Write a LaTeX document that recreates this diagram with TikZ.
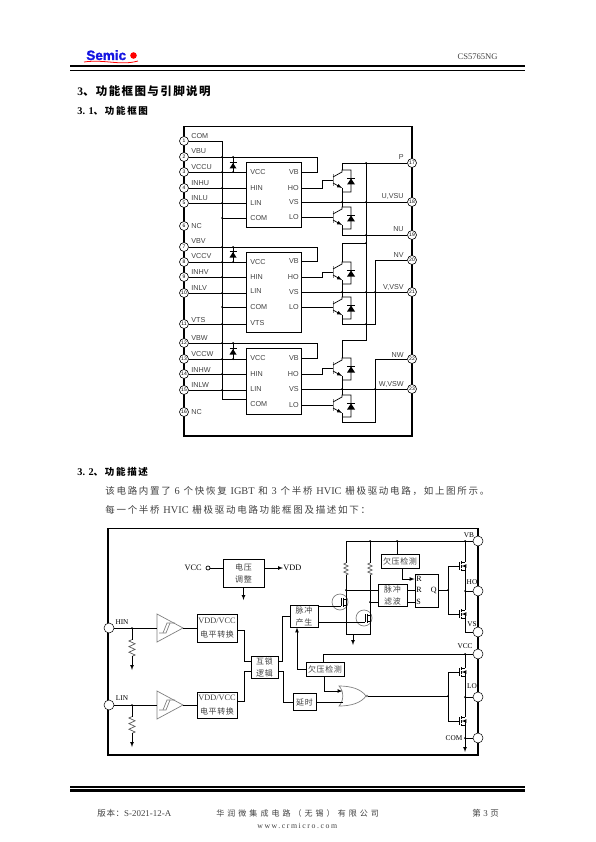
\documentclass[tikz,border=0pt]{standalone}
\usepackage{fontspec}
\setmainfont{Liberation Serif}
\setsansfont{Liberation Sans}
\newfontfamily\zh[LetterSpace=8]{Noto Sans CJK SC}
\newfontfamily\zhsp[LetterSpace=18]{Noto Sans CJK SC}
\newfontfamily\zhtitle[LetterSpace=12]{Noto Sans CJK SC}
\newfontfamily\zhfoot[LetterSpace=38]{Noto Sans CJK SC}
\newfontfamily\logofont[BoldFeatures={FakeBold=1.5}]{Liberation Sans}
\newcommand\bodylat[1]{{\rmfamily\fontsize{10.3}{11}\selectfont #1}}
\newcommand\footlat[1]{{\rmfamily\fontsize{8.9}{10}\selectfont #1}}
\newcommand\gap{\hspace{2.5pt}}
\newcommand\wgap{\hspace{3.8pt}}
\definecolor{logoblue}{RGB}{20,20,225}
\definecolor{inkgray}{gray}{0.25}
\tikzset{
  >=latex,
  pagetext/.style={anchor=west, inner sep=0pt, text=inkgray},
  bodytext/.style={pagetext, font=\fontsize{9.5}{11}\selectfont\zhsp},
  headtext/.style={pagetext, text=black, font=\fontsize{9.5}{11}\selectfont\zhsp\bfseries},
  foottext/.style={pagetext, font=\fontsize{8}{9}\selectfont\zhfoot},
  frame/.style={draw, line width=1.4pt},
  pinnum/.style={shape=circle, draw, fill=white, minimum size=9pt, inner sep=0pt, line width=.6pt, font=\sffamily\fontsize{5}{5}\selectfont},
  pintext/.style={inner sep=0pt, text=inkgray, font=\sffamily\fontsize{7.2}{8}\selectfont},
  icbox/.style={shape=rectangle, draw, line width=.7pt, minimum width=55pt},
  portpin/.style={shape=circle, draw, fill=white, minimum size=10pt, inner sep=0pt, line width=.5pt},
  block/.style={shape=rectangle, draw, line width=.8pt, inner sep=0pt, align=center, text=inkgray, font=\fontsize{8}{12}\selectfont\zh},
  porttext/.style={inner sep=0pt, font=\fontsize{7.3}{8}\selectfont},
  igbt/.pic={
    \draw[gray, line width=.8pt] (0,-6) -- (0,6);
    \draw (0,-3) -- (9,-8) -- (9,-10) -- (18,-10) -- (18,12) -- (9,12);
    \draw[->] (0,3) -- (9,8);
    \draw (9,8) -- (9,12);
    \fill (14,4.5) -- (22,4.5) -- (18,-1.5) -- cycle;
    \draw (14,-2) -- (22,-2);
    \coordinate (-b) at (0,0);
    \coordinate (-c) at (9,-10);
    \coordinate (-e) at (9,12);
  },
  bootdiode/.pic={
    \fill (-3.5,3.5) -- (3.5,3.5) -- (0,-2) -- cycle;
    \draw (-3.5,-2.5) -- (3.5,-2.5);
    \coordinate (-o) at (0,0);
  },
  buffer/.pic={
    \draw[gray] (0,-14) -- (26,0) -- (0,14) -- cycle;
    \draw[gray] (2,5) -- (9,5) -- (13,-5);
    \draw[gray] (6,5) -- (10,-5) -- (18,-5);
    \coordinate (-i) at (0,0);
    \coordinate (-o) at (26,0);
  },
  zigzag/.pic={
    \draw[gray!70!black] (0,-6) -- (-2.2,-5) -- (2.2,-3) -- (-2.2,-1) -- (2.2,1) -- (-2.2,3) -- (2.2,5) -- (0,6);
    \coordinate (-t) at (0,-6);
    \coordinate (-b) at (0,6);
  },
  smallmos/.pic={
    \draw[gray] (0,0) circle (8);
    \draw (1,-4) -- (1,4);
    \draw[line width=1.2pt] (3.5,-4.5) -- (3.5,4.5);
    \draw (3.5,-3) -- (6,-3);
    \draw (3.5,3) -- (6,3);
    \coordinate (-g) at (1,4);
  },
  powermos/.pic={
    \draw (0,-4) -- (0,4);
    \draw[line width=1pt] (2,-5) -- (2,-2.5);
    \draw[line width=1pt] (2,-1.5) -- (2,1.5);
    \draw[line width=1pt] (2,2.5) -- (2,5);
    \draw (2,-4) -- (6,-4);
    \draw (2,4) -- (6,4);
    \draw[->] (6,0) -- (2.5,0);
    \draw (6,0) -- (6,4);
    \coordinate (-g) at (0,0);
    \coordinate (-d) at (6,-4);
    \coordinate (-s) at (6,4);
  },
  orshape/.pic={
    \draw[gray, line width=.7pt] (0,-10) .. controls (5,-5) and (5,5) .. (0,10) .. controls (12,10) and (22,7) .. (27,0) .. controls (22,-7) and (12,-10) .. (0,-10) -- cycle;
    \fill[gray] (28,0) circle (1.3);
    \coordinate (-a) at (3.5,-5);
    \coordinate (-b) at (3.7,6);
    \coordinate (-o) at (29,0);
  }
}
\begin{document}
\begin{tikzpicture}[x=1pt, y=-1pt, line width=.7pt]
  \useasboundingbox (0,0) rectangle (595,842);

  \node[anchor=base west, inner sep=0pt, text=logoblue, font=\logofont\bfseries\fontsize{13.5}{14}\selectfont] (logo) at (86,60){Semic};
  \fill[red] (133.5,55.5) circle (3.3);
  \draw[red, line width=.8pt] (84,62) .. controls (105,59) and (120,66) .. (138,61);
  \node[pagetext, anchor=east, font=\fontsize{8.6}{9}\selectfont] (partno) at (498,57){CS5765NG};
  \draw[line width=2.6pt] (70,66) -- (525,66);
  \draw[line width=1pt] (70,70.5) -- (525,70.5);
  \node[pagetext, text=black, font=\fontsize{11.5}{13}\selectfont\zhtitle\bfseries] (title) at (77,91){\textrm{3}、功能框图与引脚说明};
  \node[headtext] (sub1) at (77,111){\bodylat{\bfseries 3. 1}、功能框图};
  \node[headtext] (sub2) at (77,472){\bodylat{\bfseries 3. 2}、功能描述};
  \node[bodytext] (para1) at (105,491){该电路内置了\wgap\bodylat{6}\wgap 个快恢复\wgap\bodylat{IGBT}\wgap 和\wgap\bodylat{3}\wgap 个半桥\wgap\bodylat{HVIC}\wgap 栅极驱动电路，如上图所示。};
  \node[bodytext] (para2) at (105,510){每一个半桥\wgap\bodylat{HVIC}\wgap 栅极驱动电路功能框图及描述如下：};
  \draw[line width=1.8pt] (70,787) -- (525,787);
  \draw[line width=2.6pt] (70,790.5) -- (525,790.5);
  \node[pagetext, font=\fontsize{8.5}{9}\selectfont\zh] (foot1) at (97,813){版本：\footlat{S-2021-12-A}};
  \node[foottext] (foot2) at (216,813){华润微集成电路（无锡）有限公司};
  \node[pagetext, font=\fontsize{8.5}{9}\selectfont\zh] (foot3) at (472,813){第\gap\footlat{3}\gap 页};
  \node[pagetext, font=\fontsize{7.8}{9}\selectfont\addfontfeatures{LetterSpace=20}] (foot4) at (257,826){www.crmicro.com};

  \draw[frame] (184,126.5) rectangle (412,436);
  \foreach \n/\y in {1/141,2/157,3/172,4/188,5/203,6/226,7/247,8/262,9/277,10/293,11/324,12/343,13/359,14/374,15/390,16/412}
    \node[pinnum] (p\n) at (184,\y){\n};
  \foreach \n/\y in {17/163,18/202,19/235,20/260,21/292,22/359,23/389}
    \node[pinnum] (p\n) at (412,\y){\n};
  \foreach \t/\y in {COM/136,VBU/151,VCCU/167,INHU/183,INLU/198,NC/226,VBV/241,VCCV/256,INHV/272,INLV/288,VTS/320,VBW/338,VCCW/354,INHW/370,INLW/385,NC/412}
    \node[pintext, anchor=west] (l\t\y) at (191,\y){\t};
  \foreach \t/\y in {P/157,{U,VSU}/196,NU/229,NV/255,{V,VSV}/287,NW/355,{W,VSW}/384}
    \node[pintext, anchor=east] at (404,\y){\t};

  \node[icbox, minimum height=65pt] (icu) at (273.5,194.5){};
  \node[icbox, minimum height=80pt] (icv) at (273.5,292){};
  \node[icbox, minimum height=66pt] (icw) at (273.5,381){};
  \foreach \ic/\t/\y in {icu/VCC/172,icu/HIN/188,icu/LIN/203,icu/COM/218,icv/VCC/262,icv/HIN/277,icv/LIN/291,icv/COM/307,icv/VTS/323,icw/VCC/358,icw/HIN/374,icw/LIN/389,icw/COM/404}
    \node[pintext, anchor=west] (\ic\t) at (250,\y){\t};
  \foreach \ic/\t/\y in {icu/VB/172,icu/HO/188,icu/VS/202,icu/LO/217,icv/VB/261,icv/HO/277,icv/VS/292,icv/LO/307,icw/VB/358,icw/HO/374,icw/VS/389,icw/LO/405}
    \node[pintext, anchor=east] (\ic\t) at (299,\y){\t};

  \pic (tuu) at (333,180) {igbt};
  \pic (tul) at (333,217) {igbt};
  \pic (tvu) at (333,272) {igbt};
  \pic (tvl) at (333,307) {igbt};
  \pic (twu) at (333,368) {igbt};
  \pic (twl) at (333,405) {igbt};
  \pic (dbu) at (233,165) {bootdiode};
  \pic (dbv) at (233,254) {bootdiode};
  \pic (dbw) at (233,351) {bootdiode};

  \coordinate (bus) at (222,399);
  \coordinate (vbu) at (317,157);
  \coordinate (vbv) at (317,247);
  \coordinate (vbw) at (317,343);
  \coordinate (pbus) at (366,163);
  \coordinate (pend) at (366,340);
  \coordinate (vtop) at (366,243);
  \coordinate (nvx) at (375,324);
  \coordinate (nwx) at (375,422);

  \draw (p1) -| (bus) -- (bus -| icw.west);
  \draw (icuCOM -| bus) -- (icuCOM -| icu.west);
  \draw (icvCOM -| bus) -- (icvCOM -| icv.west);
  \foreach \p/\ic in {3/icu,4/icu,5/icu,8/icv,9/icv,10/icv,11/icv,13/icw,14/icw,15/icw}
    \draw (p\p) -- (p\p -| \ic.west);
  \draw (p2) -- (vbu) |- (icuVB -| icu.east);
  \draw (p7) -- (vbv) |- (icvVB -| icv.east);
  \draw (p12) -- (vbw) |- (icwVB -| icw.east);
  \draw (p2 -| dbu-o) -- (p3 -| dbu-o);
  \draw (p7 -| dbv-o) -- (p8 -| dbv-o);
  \draw (p12 -| dbw-o) -- (p13 -| dbw-o);
  \draw (icuHO -| icu.east) -| ([xshift=-11pt]tuu-b) -- (tuu-b);
  \draw (icvHO -| icv.east) -| ([xshift=-11pt]tvu-b) -- (tvu-b);
  \draw (icwHO -| icw.east) -| ([xshift=-11pt]twu-b) -- (twu-b);
  \draw (tul-b -| icu.east) -- (tul-b);
  \draw (tvl-b -| icv.east) -- (tvl-b);
  \draw (twl-b -| icw.east) -- (twl-b);
  \draw (p18 -| icu.east) -- (p18);
  \draw (p21 -| icv.east) -- (p21);
  \draw (p23 -| icw.east) -- (p23);
  \draw (tuu-c) |- (p17);
  \draw (tuu-e) -- (tul-c);
  \draw (tul-e) |- (p19);
  \draw (tvu-e) -- (tvl-c);
  \draw (twu-e) -- (twl-c);
  \draw (tvl-e) |- (nvx) |- (p20);
  \draw (twl-e) |- (nwx) |- (p22);
  \draw (pbus) -- (pend) -| (twu-c);
  \draw (vtop) -| (tvu-c);
  \foreach \x/\y in {222/157,222/172,222/188,222/203,222/218,222/247,222/262,222/277,222/293,222/307,222/324,222/343,222/359,222/374,222/390,233/157,233/172,233/247,233/262,233/343,233/359,366/163,342/202,366/202,366/235,366/243,342/292,366/292,375/292,366/324,342/389,375/389}
    \fill (\x,\y) circle (1);

  \draw[frame] (108,528.5) rectangle (478,755);
  \node[portpin] (hin) at (109,628){};
  \node[portpin] (lin) at (109,705){};
  \node[portpin] (vb) at (478,541){};
  \node[portpin] (ho) at (478,591){};
  \node[portpin] (vs) at (478,632){};
  \node[portpin] (vcc) at (478,654){};
  \node[portpin] (lo) at (478,697){};
  \node[portpin] (com) at (478,738){};
  \foreach \t/\x/\y in {HIN/122/622,LIN/122/698,VB/469/535,HO/472/582,VS/472/624,VCC/465/646,LO/472/686,COM/454/738}
    \node[porttext] (t\t) at (\x,\y){\t};

  \node[shape=circle, draw, minimum size=4pt, inner sep=0pt] (vccin) at (208,568){};
  \node[porttext, anchor=east, font=\fontsize{8.3}{9}\selectfont] (tvccin) at (202,568){VCC};
  \node[porttext, anchor=west, font=\fontsize{8.3}{9}\selectfont] (tvdd) at (283,568){VDD};
  \node[block, minimum width=41pt, minimum height=28pt] (vreg) at (243.5,573){电压\\调整};
  \coordinate (vregg) at (243.5,600);
  \draw (vccin) -- (vreg.west |- vccin);
  \draw[->] (vreg.east |- tvdd) -- (tvdd);
  \draw[->] (vreg) -- (vregg);

  \pic (bufh) at (157,628) {buffer};
  \pic (bufl) at (157,705) {buffer};
  \node[block, minimum width=40pt, minimum height=28pt] (lvh) at (217,628){\rmfamily\fontsize{8.3}{9}\selectfont VDD/VCC\\[2pt]\zh 电平转换};
  \node[block, minimum width=40pt, minimum height=26pt] (lvl) at (217,705){\rmfamily\fontsize{8.3}{9}\selectfont VDD/VCC\\[2pt]\zh 电平转换};
  \node[block, minimum width=27pt, minimum height=22pt] (lock) at (264.5,667){互锁\\逻辑};
  \node[block, minimum width=28pt, minimum height=22pt] (pulse) at (304,616){脉冲\\产生};
  \node[block, minimum width=23pt, minimum height=17pt] (delay) at (304.5,702){延时};
  \node[block, minimum width=38pt, minimum height=14pt] (uvl) at (325,669.5){欠压检测};
  \node[block, minimum width=38pt, minimum height=14pt] (uvh) at (400,561){欠压检测};
  \node[block, minimum width=29pt, minimum height=22pt] (filter) at (392.5,595){脉冲\\滤波};
  \node[block, minimum width=23pt, minimum height=33pt] (latch) at (426.5,590.5){};
  \node[porttext, anchor=west, font=\fontsize{8}{9}\selectfont] (latchr1) at (416,579){R};
  \node[porttext, anchor=west, font=\fontsize{8}{9}\selectfont] (latchr2) at (416,590){R};
  \node[porttext, anchor=west, font=\fontsize{8}{9}\selectfont] (latchs) at (416,602){S};
  \node[porttext, anchor=east, font=\fontsize{8}{9}\selectfont] (latchq) at (437,590){Q};

  \pic[scale=1.4] (rh) at (132,648) {zigzag};
  \pic[scale=1.4] (rl) at (132,725) {zigzag};
  \pic (r1) at (346,569) {zigzag};
  \pic (r2) at (370,569) {zigzag};
  \pic (m1) at (340,602) {smallmos};
  \pic (m2) at (364,618) {smallmos};
  \pic (hs1) at (459,566) {powermos};
  \pic (hs2) at (459,614) {powermos};
  \pic (ls1) at (459,672) {powermos};
  \pic (ls2) at (459,721) {powermos};
  \pic (org) at (339,696) {orshape};

  \coordinate (rhg) at (132,670);
  \coordinate (rlg) at (132,747);
  \coordinate (lockin1) at (251,661);
  \coordinate (lockin2) at (251,671);
  \coordinate (lockout1) at (278,661);
  \coordinate (lockout2) at (278,671);
  \coordinate (railw) at (346,541);
  \coordinate (gbar1) at (346,634);
  \coordinate (gbar2) at (370,634);
  \coordinate (gnd2) at (353,645);
  \coordinate (hbus1) at (448,566);
  \coordinate (hbus2) at (448,614);
  \coordinate (lbus1) at (448,672);
  \coordinate (lbus2) at (448,721);
  \coordinate (gndr) at (465,752);

  \draw (hin) -- (bufh-i);
  \draw (lin) -- (bufl-i);
  \draw (bufh-o) -- (lvh);
  \draw (bufl-o) -- (lvl);
  \draw (hin -| rh-t) -- (rh-t);
  \draw (lin -| rl-t) -- (rl-t);
  \draw[->] (rh-b) -- (rhg);
  \draw[->] (rl-b) -- (rlg);
  \draw ([yshift=-2pt]lvh.east) -| ([xshift=-7pt]lockin1) -- (lockin1);
  \draw ([yshift=4pt]lvl.east) -| ([xshift=-7pt]lockin2) -- (lockin2);
  \draw (lockout1) -| ([xshift=-7pt]pulse.west) -- (pulse.west);
  \draw (lockout2) -| ([xshift=-9pt]delay.west) -- (delay.west);
  \draw[->] (uvl.west) -| ([xshift=-7pt]pulse.south);
  \draw (vcc) -| ([xshift=-2pt]uvl.north);
  \draw[->] ([xshift=-1pt]uvl.south) |- (org-a);
  \draw (delay.east) -- (org-b);
  \draw (org-o) -- (org-o -| lbus1);
  \draw (vb) -- (railw) -- (r1-t);
  \draw (r1-b) -- (gbar1) -- (gbar2) -- (r2-b);
  \draw (r2-t) -- (r2-t |- railw);
  \draw[->] (gnd2 |- gbar1) -- (gnd2);
  \draw (m1-g -| pulse.east) -- (m1-g);
  \draw (m2-g -| pulse.east) -- (m2-g);
  \draw (latchr2 -| filter.west) -- (latchr2 -| gbar1);
  \draw (latchs -| filter.west) -- (latchs -| gbar2);
  \draw (latchr2 -| filter.east) -- (latchr2 -| latch.west);
  \draw (latchs -| filter.east) -- (latchs -| latch.west);
  \draw ([xshift=-3pt]uvh.north |- vb) -- ([xshift=-3pt]uvh.north);
  \draw[->] ([xshift=2pt]uvh.south) |- (latchr1 -| latch.west);
  \draw (latch.east) -- (latch.east -| hbus1);
  \draw (hs1-g) -- (hbus1) -- (hbus2) -- (hs2-g);
  \draw (ls1-g) -- (lbus1) -- (lbus2) -- (ls2-g);
  \draw (hs1-d) -- (hs1-d |- vb);
  \draw (hs1-s) -- (hs2-d);
  \draw (hs2-s) |- (vs);
  \draw (ho -| hs1-d) -- (ho);
  \draw (ls1-d) -- (ls1-d |- vcc);
  \draw (ls1-s) -- (ls2-d);
  \draw[->] (ls2-s) -- (gndr);
  \draw (lo -| ls1-d) -- (lo);
  \draw (com -| ls1-d) -- (com);
  \foreach \x/\y in {132/628,132/705,370/541,397/541,465/541,346/590,370/602,465/591,465/654,465/697,465/738,448/590,448/696}
    \fill (\x,\y) circle (1);
\end{tikzpicture}
\end{document}
